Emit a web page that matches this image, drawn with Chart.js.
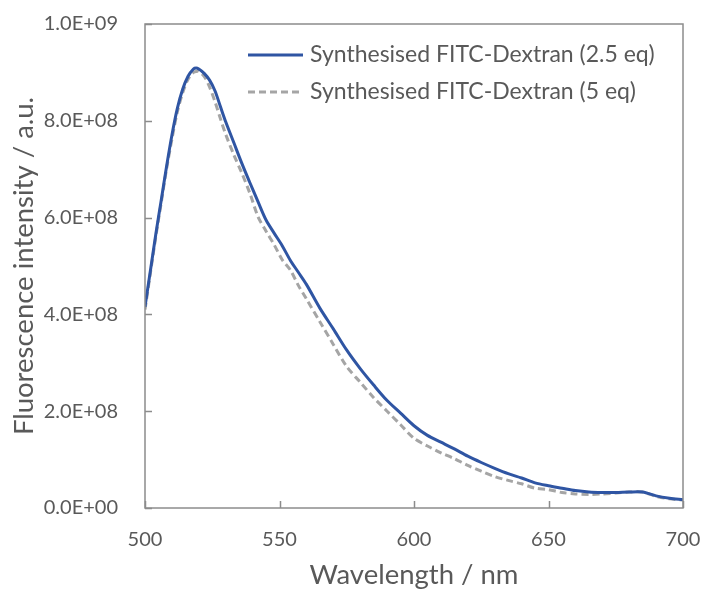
<!DOCTYPE html>
<html>
<head>
<meta charset="utf-8">
<script src="https://cdn.jsdelivr.net/npm/chart.js@4/dist/chart.umd.min.js"></script>
<style>
  html, body { margin: 0; padding: 0; background: #ffffff; }
  #wrap { width: 703px; height: 592px; position: relative; }
</style>
</head>
<body>
<div id="wrap"><canvas id="c"></canvas></div>
<script>
// Emission wavelengths (nm)
const wavelengths = [500,502,504,506,508,510,512,514,516,518,519,520,522,524,526,528,530,533,536,539,542,545,548,551,554,557,560,565,570,575,580,585,590,595,600,605,610,615,620,625,630,635,640,645,650,655,660,665,670,675,680,685,690,695,700];

// Fluorescence intensity, units of 1e8 a.u.
const dextran25 = [4.16,4.90,5.65,6.35,7.05,7.70,8.25,8.65,8.92,9.07,9.09,9.07,8.98,8.84,8.62,8.30,7.98,7.55,7.12,6.72,6.33,5.95,5.68,5.42,5.12,4.87,4.62,4.13,3.70,3.26,2.88,2.54,2.22,1.96,1.70,1.50,1.36,1.22,1.07,0.94,0.82,0.71,0.62,0.52,0.46,0.41,0.36,0.33,0.32,0.32,0.33,0.33,0.25,0.20,0.17];
const dextran5 = [4.10,4.85,5.60,6.30,7.00,7.62,8.18,8.58,8.86,9.00,9.02,9.02,8.92,8.70,8.40,8.05,7.72,7.30,6.92,6.50,6.02,5.72,5.44,5.13,4.92,4.60,4.32,3.85,3.38,2.92,2.60,2.28,2.00,1.72,1.44,1.28,1.14,1.02,0.88,0.76,0.65,0.57,0.50,0.41,0.38,0.32,0.29,0.28,0.29,0.31,0.33,0.33,0.24,0.19,0.165];

const seriesNames = ['Synthesised FITC-Dextran (2.5 eq)', 'Synthesised FITC-Dextran (5 eq)'];
const xTicks = [500, 550, 600, 650, 700];
const yTicks = [0, 2e8, 4e8, 6e8, 8e8, 1e9];

const FONT = 'Lato, "Open Sans", sans-serif';
const AXIS = '#8c8c8c';
const TEXT = '#595959';

const toPoints = vals => wavelengths.map((w, i) => ({ x: w, y: vals[i] * 1e8 }));

function sci(v) {
  if (v === 0) return '0.0E+00';
  const e = Math.floor(Math.log10(v) + 1e-9);
  const m = (v / Math.pow(10, e)).toFixed(1);
  return m + 'E+' + String(e).padStart(2, '0');
}

// Frame, inward tick marks and the in-plot legend
const framePlugin = {
  id: 'frame',
  afterDraw(chart) {
    const ctx = chart.ctx;
    const a = chart.chartArea;
    const xs = chart.scales.x, ys = chart.scales.y;
    ctx.save();
    ctx.strokeStyle = AXIS;
    ctx.lineWidth = 1.5;
    ctx.strokeRect(a.left, a.top, a.right - a.left, a.bottom - a.top);
    ctx.beginPath();
    xTicks.forEach(t => {
      const px = Math.round(xs.getPixelForValue(t)) + 0.5;
      ctx.moveTo(px, a.bottom); ctx.lineTo(px, a.bottom - 7);
    });
    yTicks.forEach(t => {
      const py = Math.round(ys.getPixelForValue(t)) + 0.5;
      ctx.moveTo(a.left, py); ctx.lineTo(a.left + 7, py);
    });
    ctx.stroke();

    // legend
    const lx0 = a.left + 103, lx1 = a.left + 158, tx = a.left + 165;
    const rows = [a.top + 31, a.top + 68];
    chart.data.datasets.forEach((ds, i) => {
      const y = rows[i];
      ctx.beginPath();
      ctx.strokeStyle = ds.borderColor;
      ctx.lineWidth = ds.borderWidth;
      ctx.setLineDash(ds.borderDash || []);
      ctx.moveTo(lx0, y); ctx.lineTo(lx1, y);
      ctx.stroke();
      ctx.setLineDash([]);
      ctx.fillStyle = TEXT;
      ctx.font = '23px ' + FONT;
      ctx.textBaseline = 'middle';
      ctx.textAlign = 'left';
      ctx.fillText(ds.label, tx, y);
    });
    ctx.restore();
  }
};

new Chart(document.getElementById('c'), {
  type: 'line',
  data: {
    datasets: [
      { label: seriesNames[0], data: toPoints(dextran25), borderColor: '#2f55a3', borderWidth: 3, pointRadius: 0, tension: 0.3, order: 1 },
      { label: seriesNames[1], data: toPoints(dextran5), borderColor: '#a5a5a5', borderWidth: 3, borderDash: [7, 4], pointRadius: 0, tension: 0.3, order: 2 }
    ]
  },
  options: {
    responsive: true,
    maintainAspectRatio: false,
    animation: false,
    events: [],
    layout: { padding: { top: 24, right: 20, left: 0, bottom: 0 } },
    plugins: { legend: { display: false }, tooltip: { enabled: false } },
    scales: {
      x: {
        type: 'linear', min: 500, max: 700,
        afterBuildTicks: s => { s.ticks = xTicks.map(v => ({ value: v })); },
        afterFit: s => { s.height = 84; s.paddingLeft = 0; s.paddingRight = 0; },
        grid: { display: false },
        border: { display: false },
        ticks: { color: TEXT, font: { family: FONT, size: 20 }, padding: 12, maxRotation: 0 },
        title: { display: true, text: 'Wavelength / nm', color: TEXT, font: { family: FONT, size: 27.5 }, padding: { top: 4, bottom: 0 } }
      },
      y: {
        type: 'linear', min: 0, max: 1e9,
        afterBuildTicks: s => { s.ticks = yTicks.map(v => ({ value: v })); },
        afterFit: s => { s.width = 145; s.paddingTop = 0; s.paddingBottom = 0; },
        grid: { display: false },
        border: { display: false },
        ticks: { color: TEXT, font: { family: FONT, size: 20 }, padding: 19, callback: v => sci(v) },
        title: { display: true, text: 'Fluorescence intensity / a.u.', color: TEXT, font: { family: FONT, size: 27.5 }, padding: { top: 8 } }
      }
    }
  },
  plugins: [framePlugin]
});
</script>
</body>
</html>
